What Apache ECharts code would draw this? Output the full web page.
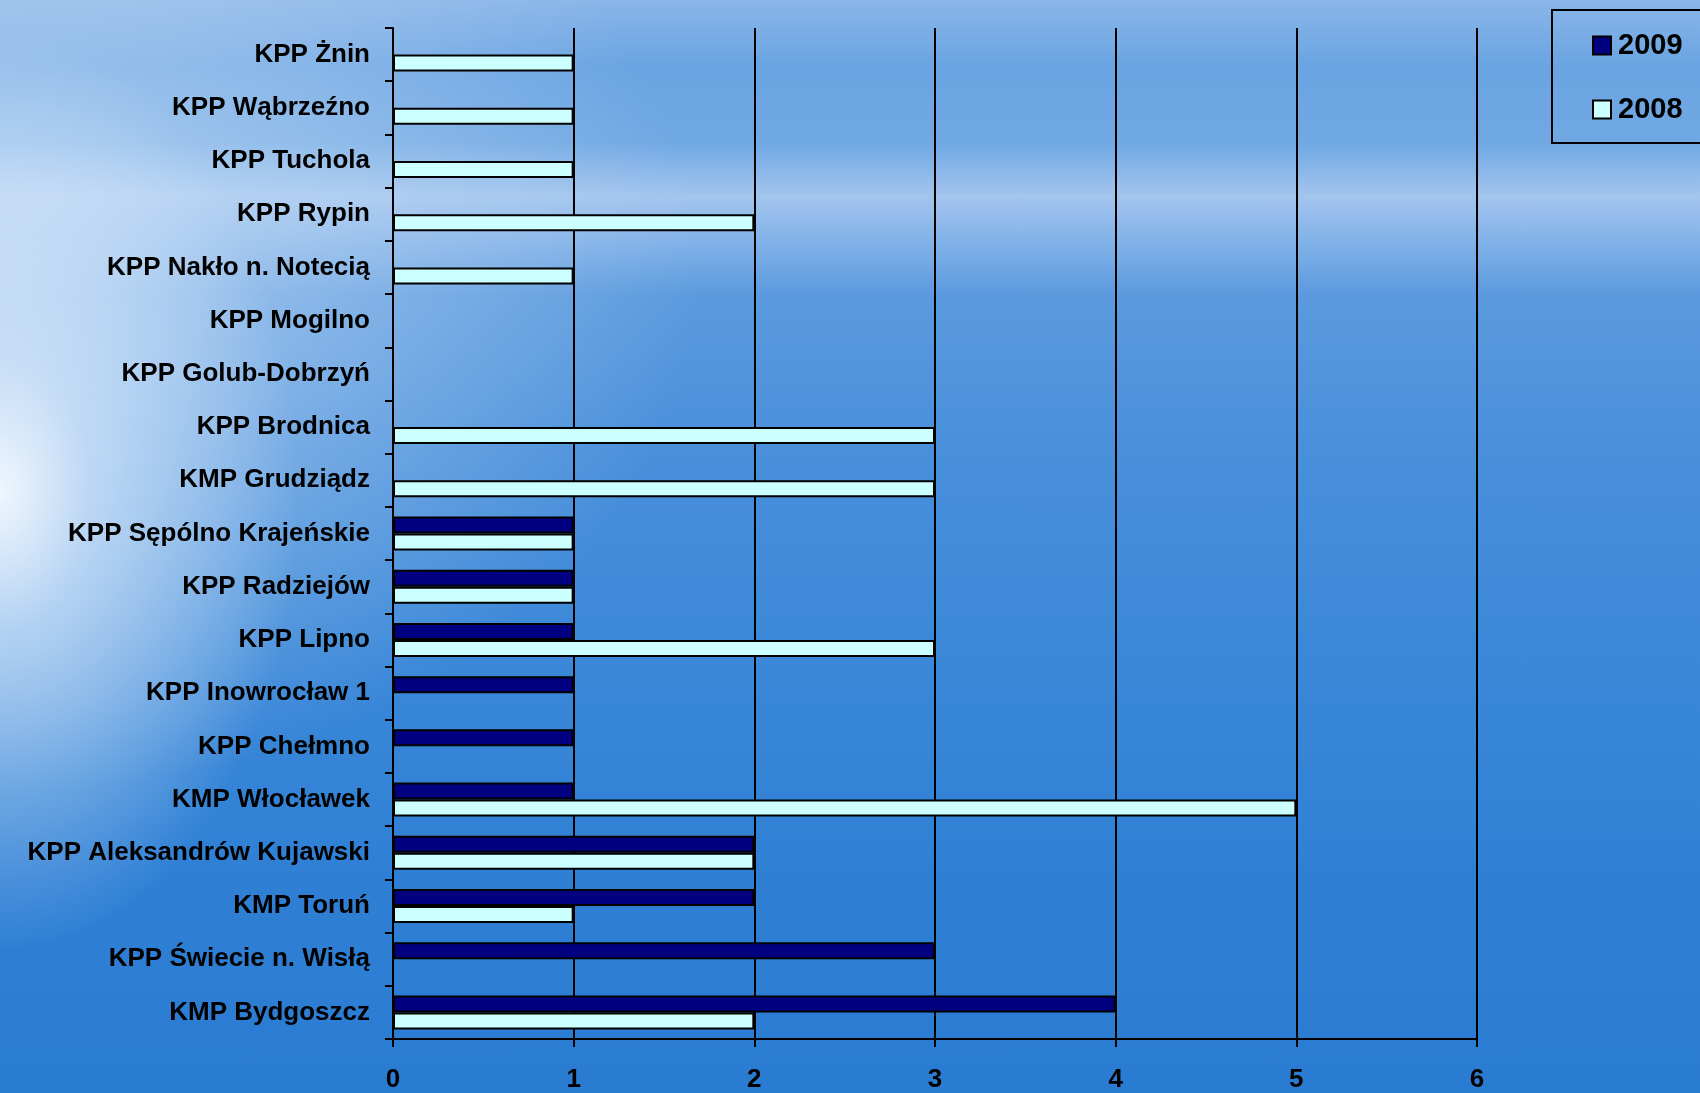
<!DOCTYPE html>
<html>
<head>
<meta charset="utf-8">
<script src="https://cdn.jsdelivr.net/npm/echarts@6/dist/echarts.min.js"></script>
<style>
html,body{margin:0;padding:0;width:1700px;height:1093px;overflow:hidden;}
body{
  background:
    radial-gradient(ellipse 300px 460px at 0% 45%, rgba(245,250,255,0.95) 0%, rgba(215,232,250,0.7) 30%, rgba(200,222,248,0) 100%),
    radial-gradient(ellipse 700px 520px at 0% 25%, rgba(200,222,246,0.75) 0%, rgba(200,222,246,0) 100%),
    linear-gradient(to bottom, #8ab6e8 0%, #6aa4e2 6%, #70a8e3 13%, #a3c5ee 18%, #8ab7ea 21%, #5b9ade 27%, #4a90db 40%, #3b88d8 60%, #2f80d5 80%, #2a7cd2 100%);
}
#chart{width:1700px;height:1093px;}
</style>
</head>
<body>
<div id="chart"></div>
<script>
// Categories listed top to bottom as in the picture
const categories = [
  'KPP Żnin', 'KPP Wąbrzeźno', 'KPP Tuchola', 'KPP Rypin', 'KPP Nakło n. Notecią',
  'KPP Mogilno', 'KPP Golub-Dobrzyń', 'KPP Brodnica', 'KMP Grudziądz',
  'KPP Sępólno Krajeńskie', 'KPP Radziejów', 'KPP Lipno', 'KPP Inowrocław 1',
  'KPP Chełmno', 'KMP Włocławek', 'KPP Aleksandrów Kujawski', 'KMP Toruń',
  'KPP Świecie n. Wisłą', 'KMP Bydgoszcz'
];
const values2009 = [0, 0, 0, 0, 0, 0, 0, 0, 0, 1, 1, 1, 1, 1, 1, 2, 2, 3, 4];
const values2008 = [1, 1, 1, 2, 1, 0, 0, 3, 3, 1, 1, 3, 0, 0, 5, 2, 1, 0, 2];
const seriesNames = ['2009', '2008'];
const xTicks = [0, 1, 2, 3, 4, 5, 6];

const font = "'Liberation Sans', Arial, sans-serif";
const chart = echarts.init(document.getElementById('chart'), null, {renderer: 'canvas'});
chart.setOption({
  backgroundColor: 'transparent',
  animation: false,
  grid: {left: 393, right: 223, top: 28, bottom: 49, containLabel: false},
  legend: {
    orient: 'vertical',
    left: 1552, top: 10,
    padding: [21, 40, 19, 40],
    borderColor: '#000', borderWidth: 2,
    itemWidth: 18, itemHeight: 18, itemGap: 35,
    icon: 'rect',
    itemStyle: {borderColor: '#000', borderWidth: 2},
    textStyle: {fontFamily: font, fontWeight: 'bold', fontSize: 29, color: '#000', lineHeight: 28, padding: [0, 0, 0, 2]},
    data: seriesNames
  },
  xAxis: {
    type: 'value', min: xTicks[0], max: xTicks[xTicks.length - 1], interval: 1,
    axisLine: {show: true, lineStyle: {color: '#000', width: 2}},
    axisTick: {show: true, length: 8, lineStyle: {color: '#000', width: 2}},
    splitLine: {show: true, lineStyle: {color: '#000', width: 2}},
    axisLabel: {margin: 28, fontFamily: font, fontWeight: 'bold', fontSize: 26, color: '#000'}
  },
  yAxis: {
    type: 'category', data: categories, inverse: true,
    axisLine: {show: true, lineStyle: {color: '#000', width: 2}},
    axisTick: {show: true, length: 8, lineStyle: {color: '#000', width: 2}},
    axisLabel: {margin: 23, fontFamily: font, fontWeight: 'bold', fontSize: 26, color: '#000'}
  },
  series: [
    {name: seriesNames[0], type: 'bar', data: values2009, barWidth: 17, barGap: '0%',
     itemStyle: {color: '#000080', borderColor: '#000', borderWidth: 2}},
    {name: seriesNames[1], type: 'bar', data: values2008, barWidth: 17, barGap: '0%',
     itemStyle: {color: '#ccffff', borderColor: '#000', borderWidth: 2}}
  ]
});
</script>
</body>
</html>
